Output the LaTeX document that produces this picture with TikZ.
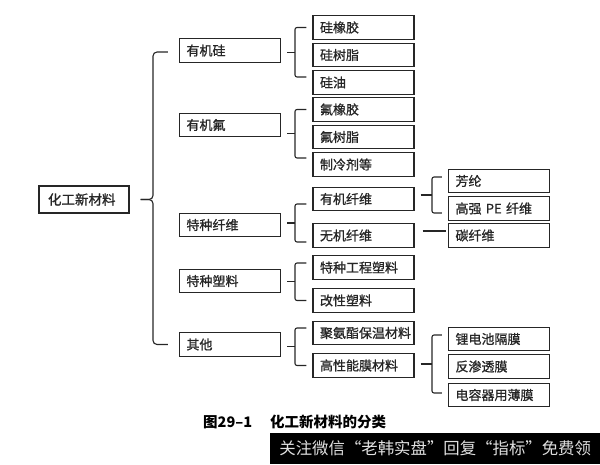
\documentclass[tikz,border=0pt]{standalone}
\usepackage{fontspec}
\setmainfont{Noto Sans CJK SC}
\newfontfamily\boxfont[FakeBold=1]{Noto Sans CJK SC}
\usetikzlibrary{calc}
\tikzset{
  conn/.style={line width=1.1pt, draw=black!85},
  box/.style={draw=black!85, line width=1.2pt, rectangle, minimum height=23.5pt,
    inner xsep=7pt, inner ysep=0pt, text width=87pt, align=left,
    font=\boxfont\fontsize{13}{15}\selectfont, text=black!85},
  rootbox/.style={box, text width=72pt, inner xsep=9pt, minimum height=27pt,
    font=\boxfont\fontsize{13.5}{15}\selectfont},
}
\newcommand\mybrace[6]{%
  \coordinate (bt) at ([shift={(-6,#5)}]#2.west);
  \coordinate (bb) at ([shift={(-6,#6)}]#3.west);
  \coordinate (bm) at ($(bt)!0.5!(bb)$);
  \draw[conn,rounded corners=2pt] (bt) -- (#4 |- bt) -- (#4 |- bb) -- (bb);
  \draw[conn] (#1.east |- bm) ++(6,0) -- (#4 |- bm);
}
\begin{document}
\begin{tikzpicture}[x=1pt,y=-1pt]
\useasboundingbox (0,0) rectangle (600,464);
% root
\node[rootbox] (root) at (84,199.5) {化工新材料};
% level 1
\node[box] (a1) at (230,50.5) {有机硅};
\node[box] (a2) at (230,125) {有机氟};
\node[box] (a3) at (230,225) {特种纤维};
\node[box] (a4) at (230,281) {特种塑料};
\node[box] (a5) at (230,344.5) {其他};
% level 2
\node[box] (s1) at (363.5,27.5) {硅橡胶};
\node[box] (s2) at (363.5,55) {硅树脂};
\node[box] (s3) at (363.5,82.5) {硅油};
\node[box] (f1) at (363.5,109.5) {氟橡胶};
\node[box] (f2) at (363.5,137) {氟树脂};
\node[box] (f3) at (363.5,164.5) {制冷剂等};
\node[box] (x1) at (363.5,199) {有机纤维};
\node[box] (x2) at (363.5,235.5) {无机纤维};
\node[box] (p1) at (363.5,267.5) {特种工程塑料};
\node[box] (p2) at (363.5,300.5) {改性塑料};
\node[box] (q1) at (363.5,333) {聚氨酯保温材料};
\node[box] (q2) at (363.5,365.5) {高性能膜材料};
% level 3
\node[box] (y1) at (499,181) {芳纶};
\node[box] (y2) at (499,208.5) {高强 PE 纤维};
\node[box] (y3) at (499,235.5) {碳纤维};
\node[box] (m1) at (499,339) {锂电池隔膜};
\node[box] (m2) at (499,366.5) {反渗透膜};
\node[box] (m3) at (499,395) {电容器用薄膜};
% bracket x positions
\coordinate (X0) at (153,0);
\coordinate (X1) at (295,0);
\coordinate (X2) at (432,0);
% root brace
\coordinate (rt) at ([shift={(-11,1.5)}]a1.west);
\coordinate (rb) at ([shift={(-11,0)}]a5.west);
\draw[conn,rounded corners=4pt] (rt) -- (X0 |- rt) -- (X0 |- root.east) -- ([xshift=11pt]root.east);
\draw[conn,rounded corners=4pt] (rb) -- (X0 |- rb) -- (X0 |- root.east) -- ([xshift=11pt]root.east);
% level 1 -> 2
\mybrace{a1}{s1}{s3}{X1}{0}{-5.5}
\mybrace{a2}{f1}{f3}{X1}{0}{-6.5}
\mybrace{a3}{x1}{x2}{X1}{5}{6.5}
\mybrace{a4}{p1}{p2}{X1}{-4.5}{0}
\mybrace{a5}{q1}{q2}{X1}{-5}{0}
% level 2 -> 3
\mybrace{x1}{y1}{y2}{X2}{-4}{4.5}
\mybrace{q2}{m1}{m3}{X2}{-4}{-2}
\draw[conn] ([shift={(8,-4.5)}]x2.east) -- ([shift={(-2,-4.5)}]y3.west);
% caption
\node[anchor=west, inner sep=0pt, font=\fontsize{14.5}{16}\selectfont\bfseries] (cap1) at (203,422) {图29–1};
\node[anchor=west, inner sep=0pt, font=\fontsize{14.5}{16}\selectfont\bfseries] (cap2) at (270,422) {化工新材料的分类};
% watermark bar
\node[fill=black, anchor=north west, minimum width=330pt, minimum height=31pt, inner sep=0pt,
  text=black!12, font=\fontsize{16.4}{18}\selectfont] (wm) at (270,433) {关注微信“老韩实盘”回复“指标”免费领};
\end{tikzpicture}
\end{document}
